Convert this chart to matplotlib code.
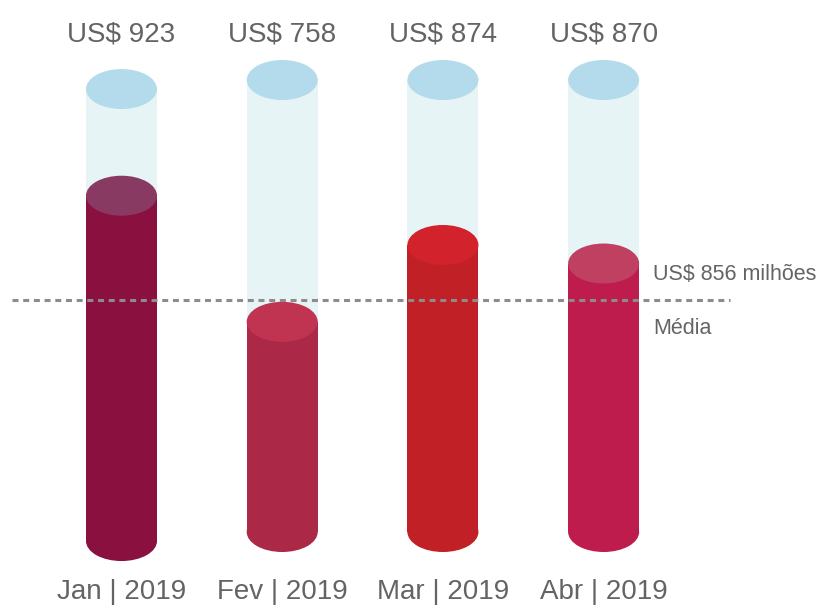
import matplotlib.pyplot as plt
from matplotlib.patches import Ellipse, Rectangle

# Dados
meses = ['Jan | 2019', 'Fev | 2019', 'Mar | 2019', 'Abr | 2019']
valores = [923, 758, 874, 870]          # US$ milhões
nivel = [76.4, 46.5, 63.5, 59.4]         # nível do líquido (% do copo)
media = 856
nivel_media = 51.3

cor_corpo = ['#8a1040', '#ab2947', '#c02026', '#be1c4c']
cor_topo = ['#893a62', '#c03452', '#d2232c', '#bf4060']
cor_vidro = '#e6f4f5'
cor_vidro_topo = '#b3dbeb'
cor_texto = '#636565'

# deslocamento vertical de cada copo (Jan está um pouco mais baixo)
desloc = [-2.0, 0, 0, 0]

plt.rcParams['font.family'] = ['Liberation Sans', 'DejaVu Sans']

fig = plt.figure(figsize=(8.23, 6.05), dpi=100)
ax = fig.add_axes([0, 0, 1, 1])
ax.set_xlim(-0.756, 4.365)
ax.set_ylim(-16.15, 117.7)
ax.axis('off')

w = 0.442   # largura do copo
eh = 8.85   # altura da elipse

for i in range(len(meses)):
    b = desloc[i]
    # copo vazio
    ax.add_patch(Rectangle((i - w/2, b), w, 100, color=cor_vidro, lw=0, zorder=1))
    ax.add_patch(Ellipse((i, b + 100), w, eh, color=cor_vidro_topo, lw=0, zorder=2))
    # líquido
    ax.add_patch(Ellipse((i, b), w, eh, color=cor_corpo[i], lw=0, zorder=3))
    ax.add_patch(Rectangle((i - w/2, b), w, nivel[i], color=cor_corpo[i], lw=0, zorder=3))
    ax.add_patch(Ellipse((i, b + nivel[i]), w, eh, color=cor_topo[i], lw=0, zorder=4))

    ax.text(i, 108.6, 'US$ %d' % valores[i], ha='center', va='baseline',
            fontsize=20, color=cor_texto)
    ax.text(i, -14.8, meses[i], ha='center', va='baseline',
            fontsize=20, color=cor_texto)

# linha da média
ax.plot([-0.681, 3.787], [nivel_media, nivel_media], color='#8c8c8c', lw=2.2,
        dashes=(1.96, 1.54), zorder=5)
ax.text(3.307, 55.75, 'US$ %d milhões' % media, ha='left', va='baseline',
        fontsize=15.5, color=cor_texto)
ax.text(3.307, 43.8, 'Média', ha='left', va='baseline', fontsize=15.5, color=cor_texto)

fig.savefig('out.png', dpi=100)
